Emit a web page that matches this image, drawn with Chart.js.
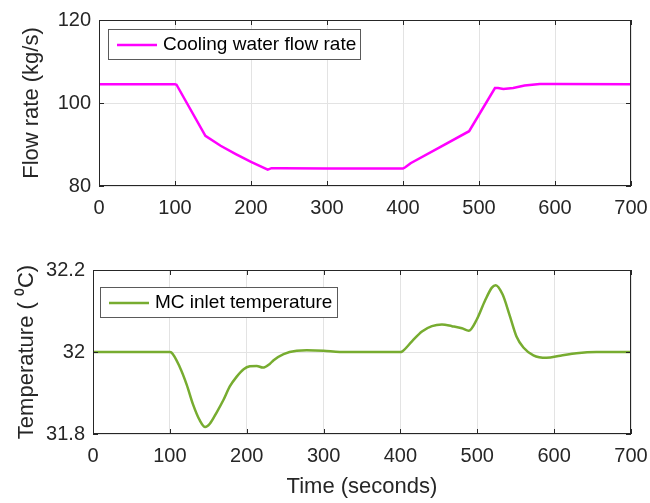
<!DOCTYPE html>
<html>
<head>
<meta charset="utf-8">
<script src="https://cdn.jsdelivr.net/npm/chart.js@4/dist/chart.umd.min.js"></script>
<style>
  html, body { margin: 0; padding: 0; background: #fff; }
  #wrap { position: relative; width: 650px; height: 503px; }
  #flowBox { position: absolute; left: 0; top: 0; width: 650px; height: 250px; }
  #tempBox { position: absolute; left: 0; top: 250px; width: 650px; height: 253px; }
</style>
</head>
<body>
<div id="wrap">
  <div id="flowBox"><canvas id="flowChart"></canvas></div>
  <div id="tempBox"><canvas id="tempChart"></canvas></div>
</div>
<script>
// cooling water flow rate (kg/s) over time (s)
const flowTime = [0, 100, 102, 140, 160, 180, 200, 222, 227, 240, 300, 400, 403, 410, 450, 487, 521, 525, 532, 545, 560, 580, 600, 700];
const flowRate = [104.5, 104.5, 104.4, 92.1, 89.7, 87.7, 85.8, 83.95, 84.3, 84.3, 84.2, 84.2, 84.5, 85.5, 89.5, 93.2, 103.6, 103.6, 103.4, 103.6, 104.2, 104.6, 104.6, 104.5];

// MC inlet temperature (deg C) over time (s)
const tempTime = [
    0, 100, 102, 113, 122, 130, 139, 146, 152, 161,
    170, 178, 187, 196, 204, 213, 221, 230, 235, 248,
    265, 278, 300, 321, 400, 402, 415, 428, 441, 454,
    467, 480, 489, 499, 510, 519, 524, 533, 542, 551,
    560, 573, 590, 608, 629, 655, 700
];
const tempValue = [
    32.0, 32.0, 31.999, 31.963, 31.92, 31.873, 31.833, 31.817, 31.825, 31.853,
    31.884, 31.916, 31.94, 31.958, 31.965, 31.966, 31.962, 31.971, 31.98, 31.995,
    32.003, 32.004, 32.003, 32.0, 32.0, 32.001, 32.026, 32.05, 32.063, 32.067,
    32.063, 32.058, 32.052, 32.078, 32.125, 32.157, 32.163, 32.14, 32.09, 32.038,
    32.011, 31.992, 31.986, 31.991, 31.997, 32.0, 32.0
];

const timeTicks = [0, 100, 200, 300, 400, 500, 600, 700];
const flowTicks = [80, 100, 120];
const tempTicks = [31.8, 32, 32.2];

const FONT = "'Liberation Sans', Arial, sans-serif";
const AXIS_COLOR = "#262626";
const GRID_COLOR = "#e3e3e3";

// full box round the plot area plus short inward tick marks
const boxPlugin = {
    id: "box",
    afterDraw(chart) {
        const { ctx, chartArea: a, scales } = chart;
        ctx.save();
        ctx.strokeStyle = AXIS_COLOR;
        ctx.lineWidth = 1;
        ctx.strokeRect(a.left + 0.5, a.top + 0.5, a.right - a.left - 1, a.bottom - a.top - 1);
        ctx.beginPath();
        scales.x.ticks.forEach(t => {
            const px = Math.round(scales.x.getPixelForValue(t.value)) + 0.5;
            ctx.moveTo(px, a.bottom); ctx.lineTo(px, a.bottom - 5);
            ctx.moveTo(px, a.top); ctx.lineTo(px, a.top + 5);
        });
        scales.y.ticks.forEach(t => {
            const py = Math.round(scales.y.getPixelForValue(t.value)) + 0.5;
            ctx.moveTo(a.left, py); ctx.lineTo(a.left + 5, py);
            ctx.moveTo(a.right, py); ctx.lineTo(a.right - 5, py);
        });
        ctx.stroke();
        ctx.restore();
    }
};

// boxed legend in the upper left corner of the axes
const legendBoxPlugin = {
    id: "legendBox",
    afterDatasetsDraw(chart, args, opts) {
        const { ctx, chartArea: a } = chart;
        const ds = chart.data.datasets[0];
        const x = a.left + opts.dx, y = a.top + opts.dy;
        ctx.save();
        ctx.fillStyle = "#fff";
        ctx.fillRect(x, y, opts.w, opts.h);
        ctx.strokeStyle = "#5a5a5a";
        ctx.lineWidth = 1;
        ctx.strokeRect(x + 0.5, y + 0.5, opts.w, opts.h);
        ctx.strokeStyle = ds.borderColor;
        ctx.lineWidth = 2.5;
        ctx.beginPath();
        ctx.moveTo(x + 9, y + opts.h / 2 + 1);
        ctx.lineTo(x + 49, y + opts.h / 2 + 1);
        ctx.stroke();
        ctx.fillStyle = "#000";
        ctx.font = "19px " + FONT;
        ctx.textBaseline = "middle";
        ctx.fillText(ds.label, x + 55, y + opts.h / 2 + 1);
        ctx.restore();
    }
};

function makeChart(id, opts) {
    return new Chart(document.getElementById(id), {
        type: "line",
        data: {
            datasets: [{
                label: opts.label,
                data: opts.xs.map((x, i) => ({ x: x, y: opts.ys[i] })),
                borderColor: opts.color,
                borderWidth: 2.5,
                pointRadius: 0,
                fill: false,
                tension: 0,
                cubicInterpolationMode: opts.smooth ? "monotone" : "default"
            }]
        },
        options: {
            responsive: true,
            maintainAspectRatio: false,
            animation: false,
            layout: { padding: { left: 0, top: opts.top, right: 0, bottom: 0 } },
            plugins: {
                legend: { display: false },
                tooltip: { enabled: false },
                legendBox: opts.legend
            },
            scales: {
                x: {
                    type: "linear",
                    min: 0,
                    max: 700,
                    afterBuildTicks: s => { s.ticks = timeTicks.map(v => ({ value: v })); },
                    afterFit: s => { s.height = opts.xHeight; s.paddingLeft = 0; s.paddingRight = 19; },
                    grid: { color: GRID_COLOR, drawTicks: false },
                    border: { display: false },
                    ticks: { color: AXIS_COLOR, padding: 10, maxRotation: 0, font: { family: FONT, size: 20 } },
                    title: {
                        display: !!opts.xTitle,
                        text: opts.xTitle || "",
                        color: AXIS_COLOR,
                        padding: { top: 0, bottom: 3 },
                        font: { family: FONT, size: 22 }
                    }
                },
                y: {
                    min: opts.yTicks[0],
                    max: opts.yTicks[opts.yTicks.length - 1],
                    afterBuildTicks: s => { s.ticks = opts.yTicks.map(v => ({ value: v })); },
                    afterFit: s => { s.width = opts.yWidth; },
                    grid: { color: GRID_COLOR, drawTicks: false },
                    border: { display: false },
                    ticks: {
                        color: AXIS_COLOR,
                        padding: 8,
                        font: { family: FONT, size: 20 },
                        callback: v => String(+v.toFixed(1))
                    },
                    title: {
                        display: true,
                        text: opts.yTitle,
                        color: AXIS_COLOR,
                        padding: { top: opts.yTitlePad, bottom: 0 },
                        font: { family: FONT, size: 22 }
                    }
                }
            }
        },
        plugins: [boxPlugin, legendBoxPlugin]
    });
}

makeChart("flowChart", {
    label: "Cooling water flow rate",
    xs: flowTime,
    ys: flowRate,
    color: "#ff00ff",
    smooth: false,
    top: 17,
    xHeight: 64,
    yWidth: 99,
    yTicks: flowTicks,
    yTitle: "Flow rate (kg/s)",
    yTitlePad: 19,
    legend: { dx: 9, dy: 9, w: 252, h: 30 }
});

makeChart("tempChart", {
    label: "MC inlet temperature",
    xs: tempTime,
    ys: tempValue,
    color: "#77ac30",
    smooth: true,
    top: 15,
    xHeight: 69,
    yWidth: 93,
    yTicks: tempTicks,
    yTitle: "Temperature ( \u2070C)",
    yTitlePad: 14,
    xTitle: "Time (seconds)",
    legend: { dx: 7, dy: 17, w: 237, h: 30 }
});
</script>
</body>
</html>
